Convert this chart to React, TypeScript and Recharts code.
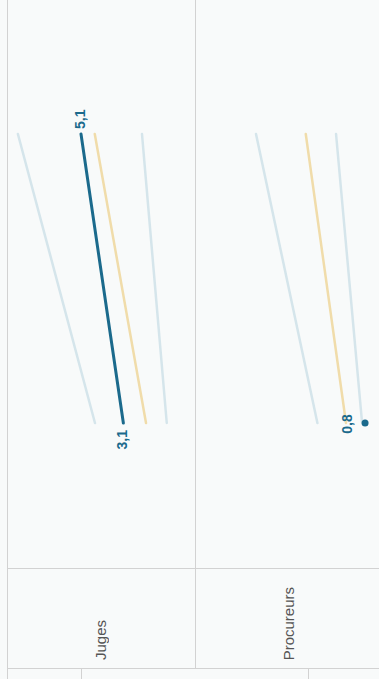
import { LineChart, Line, XAxis, YAxis, LabelList } from 'recharts';

// the chart is drawn rotated: top of each panel = last point, bottom = first point
const POINTS = ['fin', 'début'];
const PANELS = ['Juges', 'Procureurs'];

const JUGES_MAX = [8.08, 4.44];
const JUGES_PAYS = [5.1, 3.1];
const JUGES_MOY = [4.45, 2.03];
const JUGES_MIN = [2.22, 1.05];

const PROC_MAX = [5.95, 3.05];
const PROC_PAYS = [null, 0.8];
const PROC_MOY = [3.6, 1.7];
const PROC_MIN = [2.17, 0.94];

const DOMAIN_MAX = 8.5;

const DARK = '#1b6a8c';
const LIGHT = '#d5e5eb';
const YELLOW = '#f0dcaa';
const GRID = '#d2d2d2';
const FONT = '"Liberation Sans", Arial, sans-serif';

type Row = { point: string; max: number | null; pays: number | null; moy: number | null; min: number | null };

function buildRows(max: (number | null)[], pays: (number | null)[], moy: (number | null)[], min: (number | null)[]): Row[] {
  return POINTS.map((p, i) => ({ point: p, max: max[i], pays: pays[i], moy: moy[i], min: min[i] }));
}

const fr = (v: number) => v.toFixed(1).replace('.', ',');

function rotatedLabel(kind: 'ends' | 'dot') {
  return (props: any) => {
    const x = props.x ?? props.viewBox?.x;
    const y = props.y ?? props.viewBox?.y;
    const { value, index } = props;
    if (value == null || x == null || y == null) return null;
    let bx: number, by: number, anchor: 'start' | 'end' | 'middle';
    if (kind === 'dot') {
      bx = x - 13; by = y + 1; anchor = 'middle';
    } else if (index === 0) {
      bx = x + 4; by = y - 5; anchor = 'start';
    } else {
      bx = x + 4; by = y + 7; anchor = 'end';
    }
    return (
      <text
        key={`lbl-${index}`}
        x={bx}
        y={by}
        transform={`rotate(-90 ${bx} ${by})`}
        textAnchor={anchor}
        fill={DARK}
        fontSize={14}
        fontWeight={700}
        fontFamily={FONT}
      >
        {fr(value)}
      </text>
    );
  };
}

const dotIfValue = (props: any) => {
  const { cx, cy, value, index } = props;
  if (value == null || cx == null || cy == null) return <g key={`d-${index}`} />;
  return <circle key={`d-${index}`} cx={cx} cy={cy} r={3.5} fill={DARK} stroke="none" />;
};

function Panel({ left, width, ml, mr, rows, isolated }: { left: number; width: number; ml: number; mr: number; rows: Row[]; isolated: boolean }) {
  return (
    <div style={{ position: 'absolute', left, top: 0 }}>
      <LineChart layout="vertical" width={width} height={568} data={rows} margin={{ top: 134, bottom: 145, left: ml, right: mr }}>
        <XAxis type="number" domain={[0, DOMAIN_MAX]} reversed hide />
        <YAxis type="category" dataKey="point" scale="point" hide />
        <Line dataKey="max" stroke={LIGHT} strokeWidth={2.5} strokeLinecap="round" dot={false} isAnimationActive={false} />
        <Line dataKey="min" stroke={LIGHT} strokeWidth={2.5} strokeLinecap="round" dot={false} isAnimationActive={false} />
        <Line dataKey="moy" stroke={YELLOW} strokeWidth={2.5} strokeLinecap="round" dot={false} isAnimationActive={false} />
        <Line
          dataKey="pays"
          stroke={DARK}
          strokeWidth={3}
          strokeLinecap="round"
          dot={isolated ? dotIfValue : false}
          isAnimationActive={false}
        >
          <LabelList dataKey="pays" content={rotatedLabel(isolated ? 'dot' : 'ends')} />
        </Line>
      </LineChart>
    </div>
  );
}

const line = (style: React.CSSProperties) => <div style={{ position: 'absolute', background: GRID, ...style }} />;

export default function App() {
  const juges = buildRows(JUGES_MAX, JUGES_PAYS, JUGES_MOY, JUGES_MIN);
  const proc = buildRows(PROC_MAX, PROC_PAYS, PROC_MOY, PROC_MIN);
  const labelCenters = [101, 289];

  return (
    <div
      style={{
        position: 'absolute',
        left: 0,
        top: 0,
        width: 379,
        height: 679,
        overflow: 'hidden',
        background: '#f8fafa',
        fontFamily: FONT,
      }}
    >
      {line({ left: 7, top: 0, width: 1, height: 679 })}
      {line({ left: 195, top: 0, width: 1, height: 668 })}
      {line({ left: 7, top: 568, width: 372, height: 1 })}
      {line({ left: 7, top: 668, width: 372, height: 1 })}
      {line({ left: 81, top: 668, width: 1, height: 11 })}
      {line({ left: 308, top: 668, width: 1, height: 11 })}

      <Panel left={8} width={187} ml={1} mr={6} rows={juges} isolated={false} />
      <Panel left={196} width={192} ml={6} mr={6} rows={proc} isolated={true} />

      {PANELS.map((name, i) => (
        <div
          key={name}
          style={{
            position: 'absolute',
            left: labelCenters[i] - 8,
            bottom: 679 - 660,
            width: 16,
            lineHeight: '16px',
            fontSize: 15,
            color: '#555',
            writingMode: 'vertical-rl',
            transform: 'rotate(180deg)',
            whiteSpace: 'nowrap',
          }}
        >
          {name}
        </div>
      ))}
    </div>
  );
}
